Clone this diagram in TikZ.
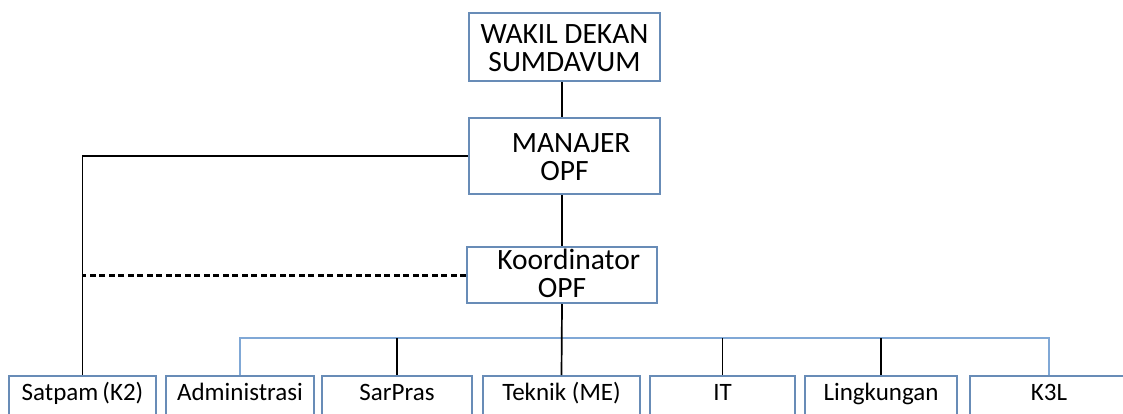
\documentclass[tikz,border=0pt]{standalone}
\usepackage{fontspec}
\setmainfont{Carlito}
\definecolor{boxblue}{RGB}{104,140,183}
\definecolor{busblue}{RGB}{128,168,214}
\newcommand{\twolines}[3]{\raisebox{#1}[0pt][0pt]{\begin{tabular}{@{}c@{}}#2\\[-1pt]#3\end{tabular}}}
\begin{document}
\begin{tikzpicture}[x=1pt,y=-1pt,
  topbox/.style={draw=boxblue,line width=2pt,fill=white,minimum width=191pt,inner sep=0pt,align=center,
     font=\fontsize{29.5}{29}\selectfont},
  botbox/.style={draw=boxblue,line width=2pt,fill=white,anchor=north,inner xsep=0pt,inner ysep=6pt,
     text height=18pt,text depth=28pt,font=\fontsize{25}{28}\selectfont},
  conn/.style={line width=1.7pt,black},
  busline/.style={line width=2pt,busblue},
  dashline/.style={line width=3pt,black,dash pattern=on 6pt off 3.5pt}
]
\useasboundingbox (0,0) rectangle (1123,414);
\clip (0,0) rectangle (1123,414);
\fill[white] (0,0) rectangle (1123,414);

% upper chain
\node[topbox,minimum height=68pt] (wd) at (564.5,47) {\twolines{-11pt}{WAKIL DEKAN}{SUMDAVUM}};
\node[topbox,minimum height=76pt] (mgr) at (564.5,156) {\twolines{-11pt}{\ \ MANAJER}{OPF}};
\node[topbox,minimum width=190pt,minimum height=56pt] (koord) at (562,275) {\twolines{-9pt}{\ \ Koordinator}{OPF}};

% bottom row
\node[botbox,minimum width=147pt] (sat) at (82.5,375) {Satpam\,(K2)};
\node[botbox,minimum width=148pt] (adm) at (240,375) {Administrasi};
\node[botbox,minimum width=150pt] (sar) at (397,375) {SarPras};
\node[botbox,minimum width=157pt] (tek) at (561.5,375) {Teknik (ME)};
\node[botbox,minimum width=145pt] (it)  at (722.5,375) {IT};
\node[botbox,minimum width=152pt] (lin) at (881,375) {Lingkungan};
\node[botbox,minimum width=158pt] (k3l) at (1049,375) {K3L};

\coordinate (bus) at (562,338);

% connectors
\draw[conn] (wd.south -| koord.north) -- (mgr.north -| koord.north);
\draw[conn] (mgr.south -| koord.north) -- (koord.north);
\draw[conn] (mgr.west) -| (sat.north);
\draw[dashline] (koord.west) -- (koord.west -| sat.north);
\draw[busline] (adm.north) -- (adm.north |- bus) -| (k3l.north);
\draw[conn] (koord.south) -- (tek.north);
\draw[conn] (sar.north |- bus) -- (sar.north);
\draw[conn] (it.north |- bus) -- (it.north);
\draw[conn] (lin.north |- bus) -- (lin.north);
\end{tikzpicture}
\end{document}
